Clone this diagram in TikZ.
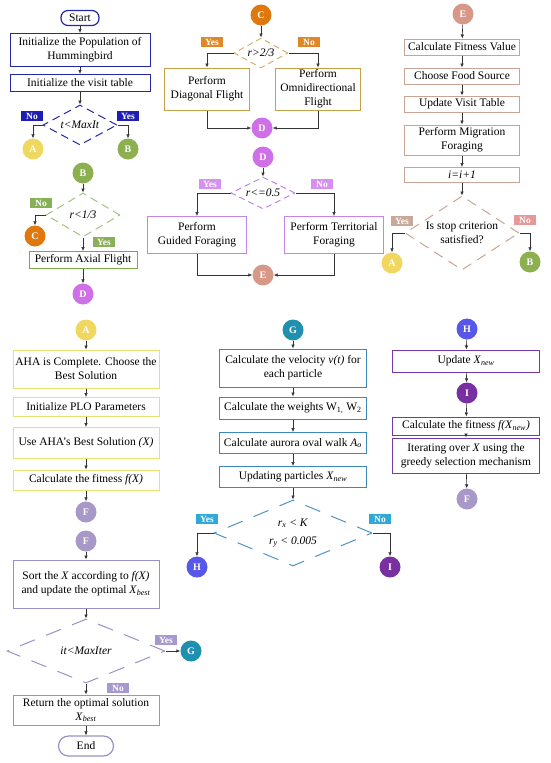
\documentclass[tikz,border=0pt]{standalone}
\usepackage{fontspec}
\setmainfont{Liberation Serif}
\usetikzlibrary{arrows.meta,shapes.geometric}

\definecolor{cNavy}{HTML}{2626A8}
\definecolor{tNavy}{HTML}{1E1EB4}
\definecolor{cGreen}{HTML}{7CA84C}
\definecolor{tGreen}{HTML}{88B058}
\definecolor{cGold}{HTML}{C8A048}
\definecolor{tOrange}{HTML}{E08828}
\definecolor{cViolet}{HTML}{C484E8}
\definecolor{tViolet}{HTML}{D890F0}
\definecolor{cRosy}{HTML}{C8A494}
\definecolor{tRosy}{HTML}{C8A898}
\definecolor{tSalmon}{HTML}{E89898}
\definecolor{cYellow}{HTML}{E8E070}
\definecolor{cLav}{HTML}{9C90C8}
\definecolor{tLav}{HTML}{A898D0}
\definecolor{cTeal}{HTML}{3C88B8}
\definecolor{tTeal}{HTML}{30A8D8}
\definecolor{cPurple}{HTML}{7838A8}
\definecolor{kA}{HTML}{F0D860}
\definecolor{kB}{HTML}{8CB050}
\definecolor{kC}{HTML}{E07810}
\definecolor{kD}{HTML}{D070E8}
\definecolor{kE}{HTML}{D89888}
\definecolor{kF}{HTML}{A898C8}
\definecolor{kG}{HTML}{2090B0}
\definecolor{kH}{HTML}{5858E8}
\definecolor{kI}{HTML}{7830A0}

\begin{document}
\begin{tikzpicture}[x=1pt,y=-1pt,
  font=\fontsize{11.5}{14}\selectfont,
  box/.style={draw=#1,line width=1pt,fill=white,align=center,inner sep=1pt},
  term/.style={draw=#1,line width=1.2pt,rounded corners=7pt,minimum height=15pt,inner sep=1pt},
  conn/.style={circle,fill=#1,minimum size=21pt,inner sep=0pt,text=white,font=\bfseries\fontsize{10}{10}\selectfont},
  tag/.style={fill=#1,text=white,font=\bfseries\fontsize{9.5}{9.5}\selectfont,inner sep=1pt,minimum width=22pt,minimum height=10pt},
  choice/.style={diamond,draw=#1,line width=1pt,align=center,inner sep=0pt},
  flow/.style={-{Latex[length=4pt,width=3.5pt]},line width=0.6pt,black!80}
]
  \useasboundingbox (0,0) rectangle (550,763);

  \node[term=cNavy,minimum width=38pt] (start) at (80,18) {Start};
  \node[box=cNavy,minimum width=140pt,minimum height=33pt] (init1) at (80,50) {Initialize the Population of\\Hummingbird};
  \node[box=cNavy,minimum width=140pt,minimum height=17pt] (init2) at (80,83) {Initialize the visit table};
  \node[choice=cNavy,dash pattern=on 8pt off 5pt,aspect=1.85,minimum width=74pt,minimum height=40pt] (maxit) at (80,125) {\textit{t<MaxIt}};
  \node[tag=tNavy] (no1) at (32,116) {No};
  \node[tag=tNavy] (yes1) at (128,116) {Yes};
  \node[conn=kA] (A1) at (33,149) {A};
  \node[conn=kB] (B1) at (128,149) {B};

  \node[conn=kB] (B2) at (83,173) {B};
  \node[choice=cGreen!70,dash pattern=on 8pt off 5pt,aspect=1.7,minimum width=74pt,minimum height=44pt] (third) at (83,215) {\textit{r<1/3}};
  \node[tag=tGreen] (no2) at (41,203) {No};
  \node[conn=kC] (C1) at (35,236) {C};
  \node[tag=tGreen] (yes2) at (104,242) {Yes};
  \node[box=cGreen,minimum width=108pt,minimum height=17pt] (axial) at (83,260) {Perform Axial Flight};
  \node[conn=kD] (D1) at (83,294) {D};

  \node[conn=kC] (C2) at (261,15) {C};
  \node[choice=cGold!80,dash pattern=on 6pt off 4pt,aspect=1.8,minimum width=54pt,minimum height=30pt] (twothird) at (261,53) {\textit{r>2/3}};
  \node[tag=tOrange] (yes3) at (212,42) {Yes};
  \node[tag=tOrange] (no3) at (309,42) {No};
  \node[box=cGold,minimum width=85pt,minimum height=42pt] (diag) at (207,89) {Perform\\Diagonal Flight};
  \node[box=cGold,minimum width=85pt,minimum height=42pt] (omni) at (318,89) {Perform\\Omnidirectional\\Flight};
  \node[conn=kD] (D2) at (262,128) {D};

  \node[conn=kD] (D3) at (263,157) {D};
  \node[choice=cViolet,dash pattern=on 6pt off 4pt,aspect=2,minimum width=64pt,minimum height=32pt] (half) at (263,193) {\textit{r<=0.5}};
  \node[tag=tViolet] (yes4) at (210,184) {Yes};
  \node[tag=tViolet] (no4) at (322,184) {No};
  \node[box=cViolet,minimum width=99pt,minimum height=37pt] (guided) at (197,235) {Perform\\Guided Foraging};
  \node[box=cViolet,minimum width=99pt,minimum height=37pt] (terr) at (334,235) {Perform Territorial\\Foraging};
  \node[conn=kE] (E1) at (263,275) {E};

  \node[conn=kE] (E2) at (463,14) {E};
  \node[box=cRosy,minimum width=115pt,minimum height=16pt] (fit) at (462,47) {Calculate Fitness Value};
  \node[box=cRosy,minimum width=115pt,minimum height=16pt] (food) at (462,76) {Choose Food Source};
  \node[box=cRosy,minimum width=115pt,minimum height=16pt] (visit) at (462,104) {Update Visit Table};
  \node[box=cRosy,minimum width=115pt,minimum height=30pt] (migr) at (462,140) {Perform Migration\\Foraging};
  \node[box=cRosy,minimum width=115pt,minimum height=15pt] (inc) at (462,175) {\textit{i=i+1}};
  \node[choice=cRosy,dash pattern=on 10pt off 7pt,aspect=1.54,minimum width=114pt,minimum height=74pt] (stop) at (462,233) {Is stop criterion\\satisfied?};
  \node[tag=tRosy] (yes5) at (402,221) {Yes};
  \node[tag=tSalmon] (no5) at (525,220) {No};
  \node[conn=kA] (A2) at (392,263) {A};
  \node[conn=kB] (B3) at (530,262) {B};

  \node[conn=kA] (A3) at (86,330) {A};
  \node[box=cYellow,minimum width=146pt,minimum height=38pt] (aha) at (86,369) {AHA is Complete. Choose the\\Best Solution};
  \node[box=cYellow,minimum width=146pt,minimum height=19pt] (plo) at (86,407) {Initialize PLO Parameters};
  \node[box=cYellow,minimum width=146pt,minimum height=31pt] (use) at (86,443) {Use AHA’s Best Solution \textit{(X)}};
  \node[box=cYellow,minimum width=146pt,minimum height=20pt] (calc) at (86,480) {Calculate the fitness \textit{f(X)}};
  \node[conn=kF] (F1) at (86,512) {F};

  \node[conn=kF] (F2) at (86,541) {F};
  \node[box=cLav,minimum width=146pt,minimum height=48pt] (sort) at (86,584) {Sort the \textit{X} according to \textit{f(X)}\\and update the optimal \textit{X}\textsubscript{\textit{best}}};
  \node[choice=cLav,dash pattern=on 16pt off 12pt,aspect=2.45,minimum width=158pt,minimum height=64pt] (maxiter) at (86,651) {\textit{it<MaxIter}};
  \node[tag=tLav] (yes6) at (166,640) {Yes};
  \node[conn=kG] (G1) at (191,651) {G};
  \node[tag=tLav] (no6) at (118,688) {No};
  \node[box=cLav,minimum width=146pt,minimum height=30pt] (ret) at (86,710) {Return the optimal solution\\\textit{X}\textsubscript{\textit{best}}};
  \node[term=cLav,minimum width=55pt,minimum height=20pt,rounded corners=10pt] (end) at (86,746) {End};

  \node[conn=kG] (G2) at (293,330) {G};
  \node[box=cTeal,minimum width=147pt,minimum height=38pt] (vel) at (293,368) {Calculate the velocity \textit{v(t)} for\\each particle};
  \node[box=cTeal,minimum width=147pt,minimum height=22pt] (wts) at (293,408) {Calculate the weights W\textsubscript{1,} W\textsubscript{2}};
  \node[box=cTeal,minimum width=147pt,minimum height=21pt] (walk) at (293,443) {Calculate aurora oval walk \textit{A}\textsubscript{\textit{o}}};
  \node[box=cTeal,minimum width=147pt,minimum height=21pt] (upd) at (293,477) {Updating particles \textit{X}\textsubscript{\textit{new}}};
  \node[choice=cTeal!90,dash pattern=on 16pt off 12pt,aspect=2.4,minimum width=158pt,minimum height=66pt] (rxk) at (293,533) {\textit{r}\textsubscript{\textit{x}} \textit{< K}\\[4pt]\textit{r}\textsubscript{\textit{y}} \textit{< 0.005}};
  \node[tag=tTeal] (yes7) at (207,519) {Yes};
  \node[tag=tTeal] (no7) at (380,519) {No};
  \node[conn=kH] (H1) at (197,567) {H};
  \node[conn=kI] (I1) at (390,567) {I};

  \node[conn=kH] (H2) at (467,329) {H};
  \node[box=cPurple,minimum width=147pt,minimum height=22pt] (updx) at (466,361) {Update \textit{X}\textsubscript{\textit{new}}};
  \node[conn=kI] (I2) at (467,393) {I};
  \node[box=cPurple,minimum width=147pt,minimum height=18pt] (fitx) at (466,426) {Calculate the fitness \textit{f(X}\textsubscript{\textit{new}}\textit{)}};
  \node[box=cPurple,minimum width=147pt,minimum height=35pt] (iter) at (466,455.5) {Iterating over \textit{X} using the\\greedy selection mechanism};
  \node[conn=kF] (F3) at (467,499) {F};

  \draw[flow] (start) -- (init1);
  \draw[flow] (init1) -- (init2);
  \draw[flow] (init2) -- (maxit);
  \draw[flow] (maxit.west) -| (A1);
  \draw[flow] (maxit.east) -| (B1);

  \draw[flow] (B2) -- (third);
  \draw[flow] (third.west) -| (C1);
  \draw[flow] (third) -- (axial);
  \draw[flow] (axial) -- (D1);

  \draw[flow] (C2) -- (twothird);
  \draw[flow] (twothird.west) -| (diag);
  \draw[flow] (twothird.east) -| (omni);
  \draw[flow] (diag) |- (D2);
  \draw[flow] (omni) |- (D2);

  \draw[flow] (D3) -- (half);
  \draw[flow] (half.west) -| (guided);
  \draw[flow] (half.east) -| (terr);
  \draw[flow] (guided) |- (E1);
  \draw[flow] (terr) |- (E1);

  \draw[flow] (E2) -- (fit);
  \draw[flow] (fit) -- (food);
  \draw[flow] (food) -- (visit);
  \draw[flow] (visit) -- (migr);
  \draw[flow] (migr) -- (inc);
  \draw[flow] (inc) -- (stop);
  \draw[flow] (stop.west) -| (A2);
  \draw[flow] (stop.east) -| (B3);

  \draw[flow] (A3) -- (aha);
  \draw[flow] (aha) -- (plo);
  \draw[flow] (plo) -- (use);
  \draw[flow] (use) -- (calc);
  \draw[flow] (calc) -- (F1);

  \draw[flow] (F2) -- (sort);
  \draw[flow] (sort) -- (maxiter);
  \draw[flow] (maxiter.east) -- (G1);
  \draw[flow] (maxiter) -- (ret);
  \draw[flow] (ret) -- (end);

  \draw[flow] (G2) -- (vel);
  \draw[flow] (vel) -- (wts);
  \draw[flow] (wts) -- (walk);
  \draw[flow] (walk) -- (upd);
  \draw[flow] (upd) -- (rxk);
  \draw[flow] (rxk.west) -| (H1);
  \draw[flow] (rxk.east) -| (I1);

  \draw[flow] (H2) -- (updx);
  \draw[flow] (updx) -- (I2);
  \draw[flow] (I2) -- (fitx);
  \draw[flow] (fitx) -- (iter);
  \draw[flow] (iter) -- (F3);
\end{tikzpicture}
\end{document}
